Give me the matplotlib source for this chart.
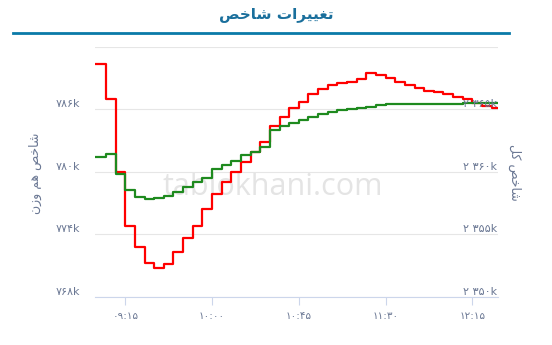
import numpy as np
import pandas as pd
from matplotlib import pyplot as plt
from matplotlib import transforms

plt.rcParams['font.family'] = ['DejaVu Sans']

# data (thousands), one point every 5 minutes + last trade
times = list(pd.date_range('2023-01-01 09:00', '2023-01-01 12:25', freq='5min')) + [pd.Timestamp('2023-01-01 12:28')]

total_index = [2368.6, 2365.8, 2360.0, 2355.7, 2354.0, 2352.7, 2352.3, 2352.6, 2353.6, 2354.7,
               2355.7, 2357.0, 2358.2, 2359.2, 2360.0, 2360.8, 2361.6, 2362.4, 2363.7, 2364.4,
               2365.1, 2365.6, 2366.2, 2366.6, 2366.9, 2367.1, 2367.2, 2367.4, 2367.9, 2367.7,
               2367.5, 2367.2, 2366.9, 2366.7, 2366.5, 2366.4, 2366.2, 2366.0, 2365.8, 2365.5,
               2365.3, 2365.1]
equal_index = [781.4, 781.7, 779.8, 778.3, 777.55, 777.4, 777.45, 777.65, 778.05, 778.5,
               779.0, 779.4, 780.25, 780.7, 781.05, 781.6, 781.95, 782.35, 784.0, 784.4,
               784.7, 785.0, 785.3, 785.5, 785.7, 785.9, 786.0, 786.15, 786.25, 786.4,
               786.5, 786.52, 786.52, 786.52, 786.51, 786.5, 786.5, 786.5, 786.57, 786.57,
               786.57, 786.57]
# repeat last value for the closing point
total_index = total_index + [total_index[-1]]
equal_index = equal_index + [equal_index[-1]]

left_ticks = [768, 774, 780, 786, 792]
right_ticks = [2350, 2355, 2360, 2365, 2370]
x_ticks = ['09:15', '10:00', '10:45', '11:30', '12:15']

# persian text, pre-shaped (presentation forms, visual order)
title = '\uFEBA\uFEA7\uFE8E\uFEB7 \uFE95\uFE8D\uFEAE\uFBFF\uFBFF\uFED0\uFE97'
left_title = '\uFEE5\uFEAF\uFEED \uFEE2\uFEEB \uFEBA\uFEA7\uFE8E\uFEB7'
right_title = '\uFEDE\uFB90 \uFEBA\uFEA7\uFE8E\uFEB7'

FA = str.maketrans('0123456789', '۰۱۲۳۴۵۶۷۸۹')


def fa(s):
    return s.translate(FA)


def minutes(t):
    t = pd.Timestamp(t)
    return t.hour * 60 + t.minute


x = [minutes(t) for t in times]

label_color = '#6b7894'

fig = plt.figure(figsize=(5.52, 3.45), dpi=100)
W, H = 552, 345
ax2 = fig.add_axes([95 / W, (H - 297) / H, (498 - 95) / W, (297 - 46.7) / H])
ax = ax2.twinx()
ax.set_zorder(ax2.get_zorder() + 1)
ax.patch.set_visible(False)
ax2.patch.set_visible(False)

ax2.step(x, total_index, where='post', color='#ff0000', lw=1.6)
ax.step(x, equal_index, where='post', color='#1e8a1e', lw=1.6)

ax.set_ylim(768, 792)
ax2.set_ylim(2350, 2370)
ax2.set_xlim(x[0] - 0.7, x[-1] + 0.3)

ax2.set_yticks(right_ticks)
ax2.grid(axis='y', color='#e6e6e6', lw=0.8)
ax2.set_axisbelow(True)
ax.set_yticks([])
ax2.set_yticklabels([])
ax2.tick_params(axis='y', length=0)

for s in ['top', 'left', 'right']:
    ax.spines[s].set_visible(False)
    ax2.spines[s].set_visible(False)
ax.spines['bottom'].set_visible(False)
ax2.spines['bottom'].set_color('#ccd6eb')

ax2.set_xticks([minutes('2023-01-01 ' + t) for t in x_ticks])
ax2.set_xticklabels([fa(t) for t in x_ticks], color=label_color, fontsize=7.5)
ax2.tick_params(axis='x', length=6, color='#ccd6eb', pad=4)

# y labels, Highcharts style: above grid line
left_tr = transforms.blended_transform_factory(fig.transFigure, ax.transData)
right_tr = transforms.blended_transform_factory(ax.transAxes, ax2.transData)
for v in left_ticks[:-1]:
    ax.text(80 / W, v, fa(f'{v}k'), transform=left_tr, ha='right', va='bottom',
            color=label_color, fontsize=8, clip_on=False)
for v in right_ticks[:-1]:
    ax.text(0.998, v, fa(f'{v:,}k'.replace(',', ' ')), transform=right_tr, ha='right',
            va='bottom', color=label_color, fontsize=8, zorder=5)

fig.text(35 / W, 1 - 173 / H, left_title, rotation=90, ha='center', va='center',
         color=label_color, fontsize=9)
fig.text(515 / W, 1 - 172 / H, right_title, rotation=270, ha='center', va='center',
         color=label_color, fontsize=9)

# title and underline
fig.text(276 / W, 1 - 15 / H, title, ha='center', va='center', color='#1a6f9c',
         fontsize=11, fontweight='bold')
fig.add_artist(plt.Line2D([13 / W, 509 / W], [1 - 32.7 / H] * 2, color='#0a7aa8', lw=2))

# watermark (behind the plot)
fig.text(273 / W, 1 - 187 / H, 'tablokhani.com', ha='center', va='center',
         color='#e4e4e4', fontsize=22, family='Open Sans', zorder=-1)

fig.savefig('out.png', dpi=100)
